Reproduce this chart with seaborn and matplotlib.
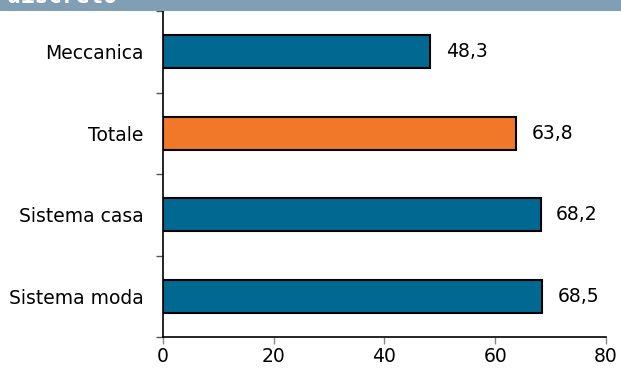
# -*- coding: utf-8 -*-
"""
Horizontal bar chart by sector
"""

# import libraries
import seaborn as sns
import matplotlib.pyplot as plt
from matplotlib.patches import Rectangle

# data
categories = ["Meccanica", "Totale", "Sistema casa", "Sistema moda"]
values = [48.3, 63.8, 68.2, 68.5]
colors = ["#006891", "#f07828", "#006891", "#006891"]
x_ticks = [0, 20, 40, 60, 80]

# set theme
sns.set_theme(style="white")
plt.rcParams['font.family'] = ['DejaVu Sans']
plt.rcParams['text.color'] = 'black'

fig = plt.figure(figsize=(6.21, 3.72), dpi=100)
ax = fig.add_axes([163 / 621, 35 / 372, 443 / 621, 326 / 372])

# title band, cut off at the top
fig.patches.append(Rectangle((0, 1 - 11 / 372), 1, 11 / 372,
                             transform=fig.transFigure,
                             facecolor="#809fb4", edgecolor="none"))
fig.text(7 / 621, 1 - 3 / 372, "discreto", color="white",
         family="DejaVu Sans Mono", fontweight="bold", fontsize=16.5,
         va="baseline", ha="left")

# plot bars
sns.barplot(
    x=values, y=categories,
    hue=categories, palette=colors,
    width=0.4, edgecolor="black", linewidth=1.5,
    saturation=1, legend=False, ax=ax
    )

for cont, v in zip(ax.containers, values):
    ax.bar_label(cont, labels=[f"{v:.1f}".replace(".", ",")],
                 padding=11, fontsize=13.5, color="black")

# axes
ax.set_xlim(0, 80)
ax.set_ylim(3.5, -0.5)
ax.set_xticks(x_ticks)
ax.set_xticklabels([str(t) for t in x_ticks])
ax.set_yticks(range(len(categories)))
ax.set_yticklabels(categories)
ax.set_yticks([-0.5, 0.5, 1.5, 2.5, 3.5], minor=True)
ax.set_xlabel("")
ax.set_ylabel("")

ax.tick_params(axis="y", which="major", length=0, pad=14, labelsize=13.5,
               labelcolor="black")
ax.tick_params(axis="y", which="minor", left=True, length=5,
               width=1, color="#555555", direction="out")
ax.tick_params(axis="x", which="major", bottom=True, length=5, width=1,
               color="#888888", direction="out", pad=2.5, labelsize=13.5,
               labelcolor="black")

for side in ["top", "right"]:
    ax.spines[side].set_visible(False)
for side in ["left", "bottom"]:
    ax.spines[side].set_color("black")
    ax.spines[side].set_linewidth(1.2)

plt.savefig('out.png', dpi=100)
